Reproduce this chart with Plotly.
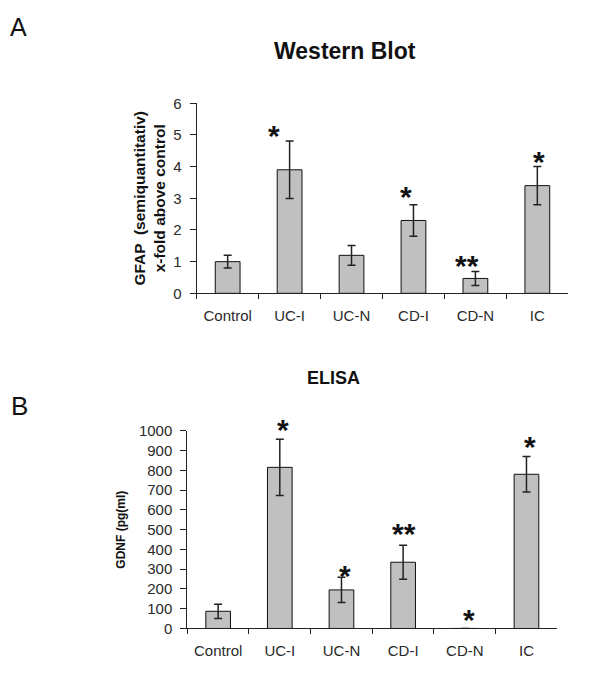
import plotly.graph_objects as go

categories = ["Control", "UC-I", "UC-N", "CD-I", "CD-N", "IC"]

# Panel A: Western Blot (GFAP, x-fold above control)
wb_values = [1.0, 3.9, 1.2, 2.3, 0.47, 3.4]
wb_errors = [0.2, 0.91, 0.31, 0.5, 0.22, 0.6]
wb_sig = ["", "*", "", "*", "**", "*"]
wb_sig_y = [None, 5.2, None, 3.28, 1.1, 4.38]
wb_range = [0, 6]

# Panel B: ELISA (GDNF pg/ml)
el_values = [87, 815, 195, 335, 0, 780]
el_errors = [36, 142, 64, 86, 0, 90]
el_sig = ["", "*", "*", "**", "*", "*"]
el_sig_y = [None, 1041, 303, 516, 82, 956]
el_range = [0, 1000]

BAR = "#c0c0c0"
TXT = "#2a2a2a"
FONT = "Arial, Liberation Sans, sans-serif"

fig = go.Figure()

fig.add_trace(go.Bar(
    x=categories, y=wb_values, xaxis="x", yaxis="y",
    marker=dict(color=BAR, line=dict(color="#111", width=1)),
    error_y=dict(type="data", array=wb_errors, visible=True,
                 color="#222", thickness=1.5, width=4),
    showlegend=False, hoverinfo="skip"))

fig.add_trace(go.Bar(
    x=categories, y=el_values, xaxis="x2", yaxis="y2",
    marker=dict(color=BAR, line=dict(color="#111", width=1)),
    error_y=dict(type="data", array=el_errors, visible=True,
                 color="#222", thickness=1.5, width=4),
    showlegend=False, hoverinfo="skip"))

axis_common = dict(showline=True, linecolor="#222", linewidth=1,
                   showgrid=False, zeroline=False, ticks="outside",
                   tickcolor="#222", tickwidth=1,
                   tickfont=dict(family=FONT, size=15, color=TXT))
xax = dict(range=[-0.5, 5.5], tickson="boundaries", ticklen=5,
           ticklabelstandoff=9, **axis_common)
yax = dict(ticklen=6, ticklabelstandoff=5, **axis_common)

W, H = 600, 674
fig.update_layout(
    width=W, height=H, margin=dict(l=0, r=0, t=0, b=0),
    paper_bgcolor="white", plot_bgcolor="white", bargap=0.6,
    font=dict(family=FONT, color=TXT),
    xaxis=dict(domain=[196.7 / W, 568.3 / W], anchor="y", **xax),
    yaxis=dict(domain=[1 - 291.7 / H, 1 - 96.7 / H], anchor="x",
               range=wb_range, dtick=1, **yax,
               title=dict(text="<b>GFAP  (semiquantitativ)<br>x-fold above control</b>",
                          font=dict(family=FONT, size=15.5, color="#111"),
                          standoff=3)),
    xaxis2=dict(domain=[187.3 / W, 557.3 / W], anchor="y2", **xax),
    yaxis2=dict(domain=[1 - 635.5 / H, 1 - 432.7 / H], anchor="x2",
                range=el_range, dtick=100, **yax,
                title=dict(text="<b>GDNF (pg(ml)</b>",
                           font=dict(family=FONT, size=12, color="#111"),
                           standoff=10)),
)

ann = []
ann.append(dict(text="A", x=8 / W, y=1 - 18 / H, xref="paper", yref="paper",
                xanchor="left", yanchor="middle", showarrow=False,
                font=dict(family=FONT, size=25, color="#111")))
ann.append(dict(text="B", x=9 / W, y=1 - 407.5 / H, xref="paper", yref="paper",
                xanchor="left", yanchor="middle", showarrow=False,
                font=dict(family=FONT, size=26, color="#111")))
ann.append(dict(text="<b>Western Blot</b>", x=345 / W, y=1 - 43 / H,
                xref="paper", yref="paper", xanchor="center", yanchor="middle",
                showarrow=False, font=dict(family=FONT, size=23, color="#111")))
ann.append(dict(text="<b>ELISA</b>", x=333 / W, y=1 - 379 / H,
                xref="paper", yref="paper", xanchor="center", yanchor="middle",
                showarrow=False, font=dict(family=FONT, size=18, color="#111")))

def add_stars(sigs, ys, rng, xref, ydomref, xshifts):
    for i, (s, yv) in enumerate(zip(sigs, ys)):
        if s:
            ann.append(dict(text="<b>" + s + "</b>", x=categories[i],
                            y=(yv - rng[0]) / (rng[1] - rng[0]),
                            xref=xref, yref=ydomref, xshift=xshifts[i], yshift=-7,
                            showarrow=False, xanchor="center", yanchor="middle",
                            font=dict(family=FONT, size=30, color="#111")))

add_stars(wb_sig, wb_sig_y, wb_range, "x", "y domain", [0, -16, 0, -7, -8, 2])
add_stars(el_sig, el_sig_y, el_range, "x2", "y2 domain", [0, 3, 4, 1, 4, 4])

fig.update_layout(annotations=ann)

js = "document.body.style.margin='0';"
fig.write_html("out.html", post_script=js, config={"displayModeBar": False})
